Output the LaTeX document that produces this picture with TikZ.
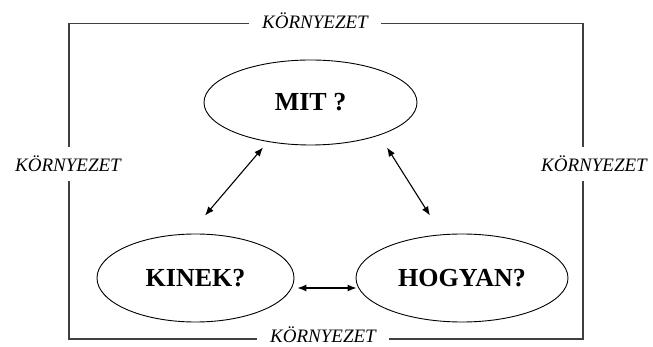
\documentclass[tikz,border=0pt]{standalone}
\usepackage{fontspec}
\setmainfont{Liberation Serif}
\usetikzlibrary{shapes.geometric,arrows.meta,calc}
\begin{document}
\begin{tikzpicture}[x=1pt,y=-1pt,
  bubble/.style={ellipse,draw,line width=0.9pt,inner sep=0pt,font=\fontsize{26}{30}\selectfont\bfseries},
  envlabel/.style={fill=white,anchor=base,font=\fontsize{19}{22}\selectfont\itshape,inner xsep=13pt,inner ysep=9pt},
  link/.style={{Latex[length=9pt,width=7pt]}-{Latex[length=9pt,width=7pt]},line width=1.1pt}]
\useasboundingbox (0,0) rectangle (653,347);
\draw[line width=1.2pt,color=black!75] (69,23.5) rectangle (583,339);
\node[envlabel] (envtop) at (315,29) {KÖRNYEZET};
\node[envlabel] (envleft) at (68,172) {KÖRNYEZET};
\node[envlabel] (envright) at (594,172) {KÖRNYEZET};
\node[envlabel,inner ysep=0.5pt] (envbottom) at (323,342) {KÖRNYEZET};
\node[bubble,minimum width=213pt,minimum height=85pt] (mit) at (310.5,102.5) {MIT ?};
\node[bubble,minimum width=197pt,minimum height=88pt] (kinek) at (195.5,278) {KINEK?};
\node[bubble,minimum width=212pt,minimum height=88pt] (hogyan) at (462,278) {HOGYAN?};
\draw[link] ($(mit.south)+(-47.5,2)$) -- ($(kinek.north)+(9.5,-18)$);
\draw[link] ($(mit.south)+(76.5,2)$) -- ($(hogyan.north)+(-32,-18)$);
\draw[link] ($(kinek.east)+(3,10)$) -- ($(hogyan.west)+(1,10)$);
\end{tikzpicture}
\end{document}
